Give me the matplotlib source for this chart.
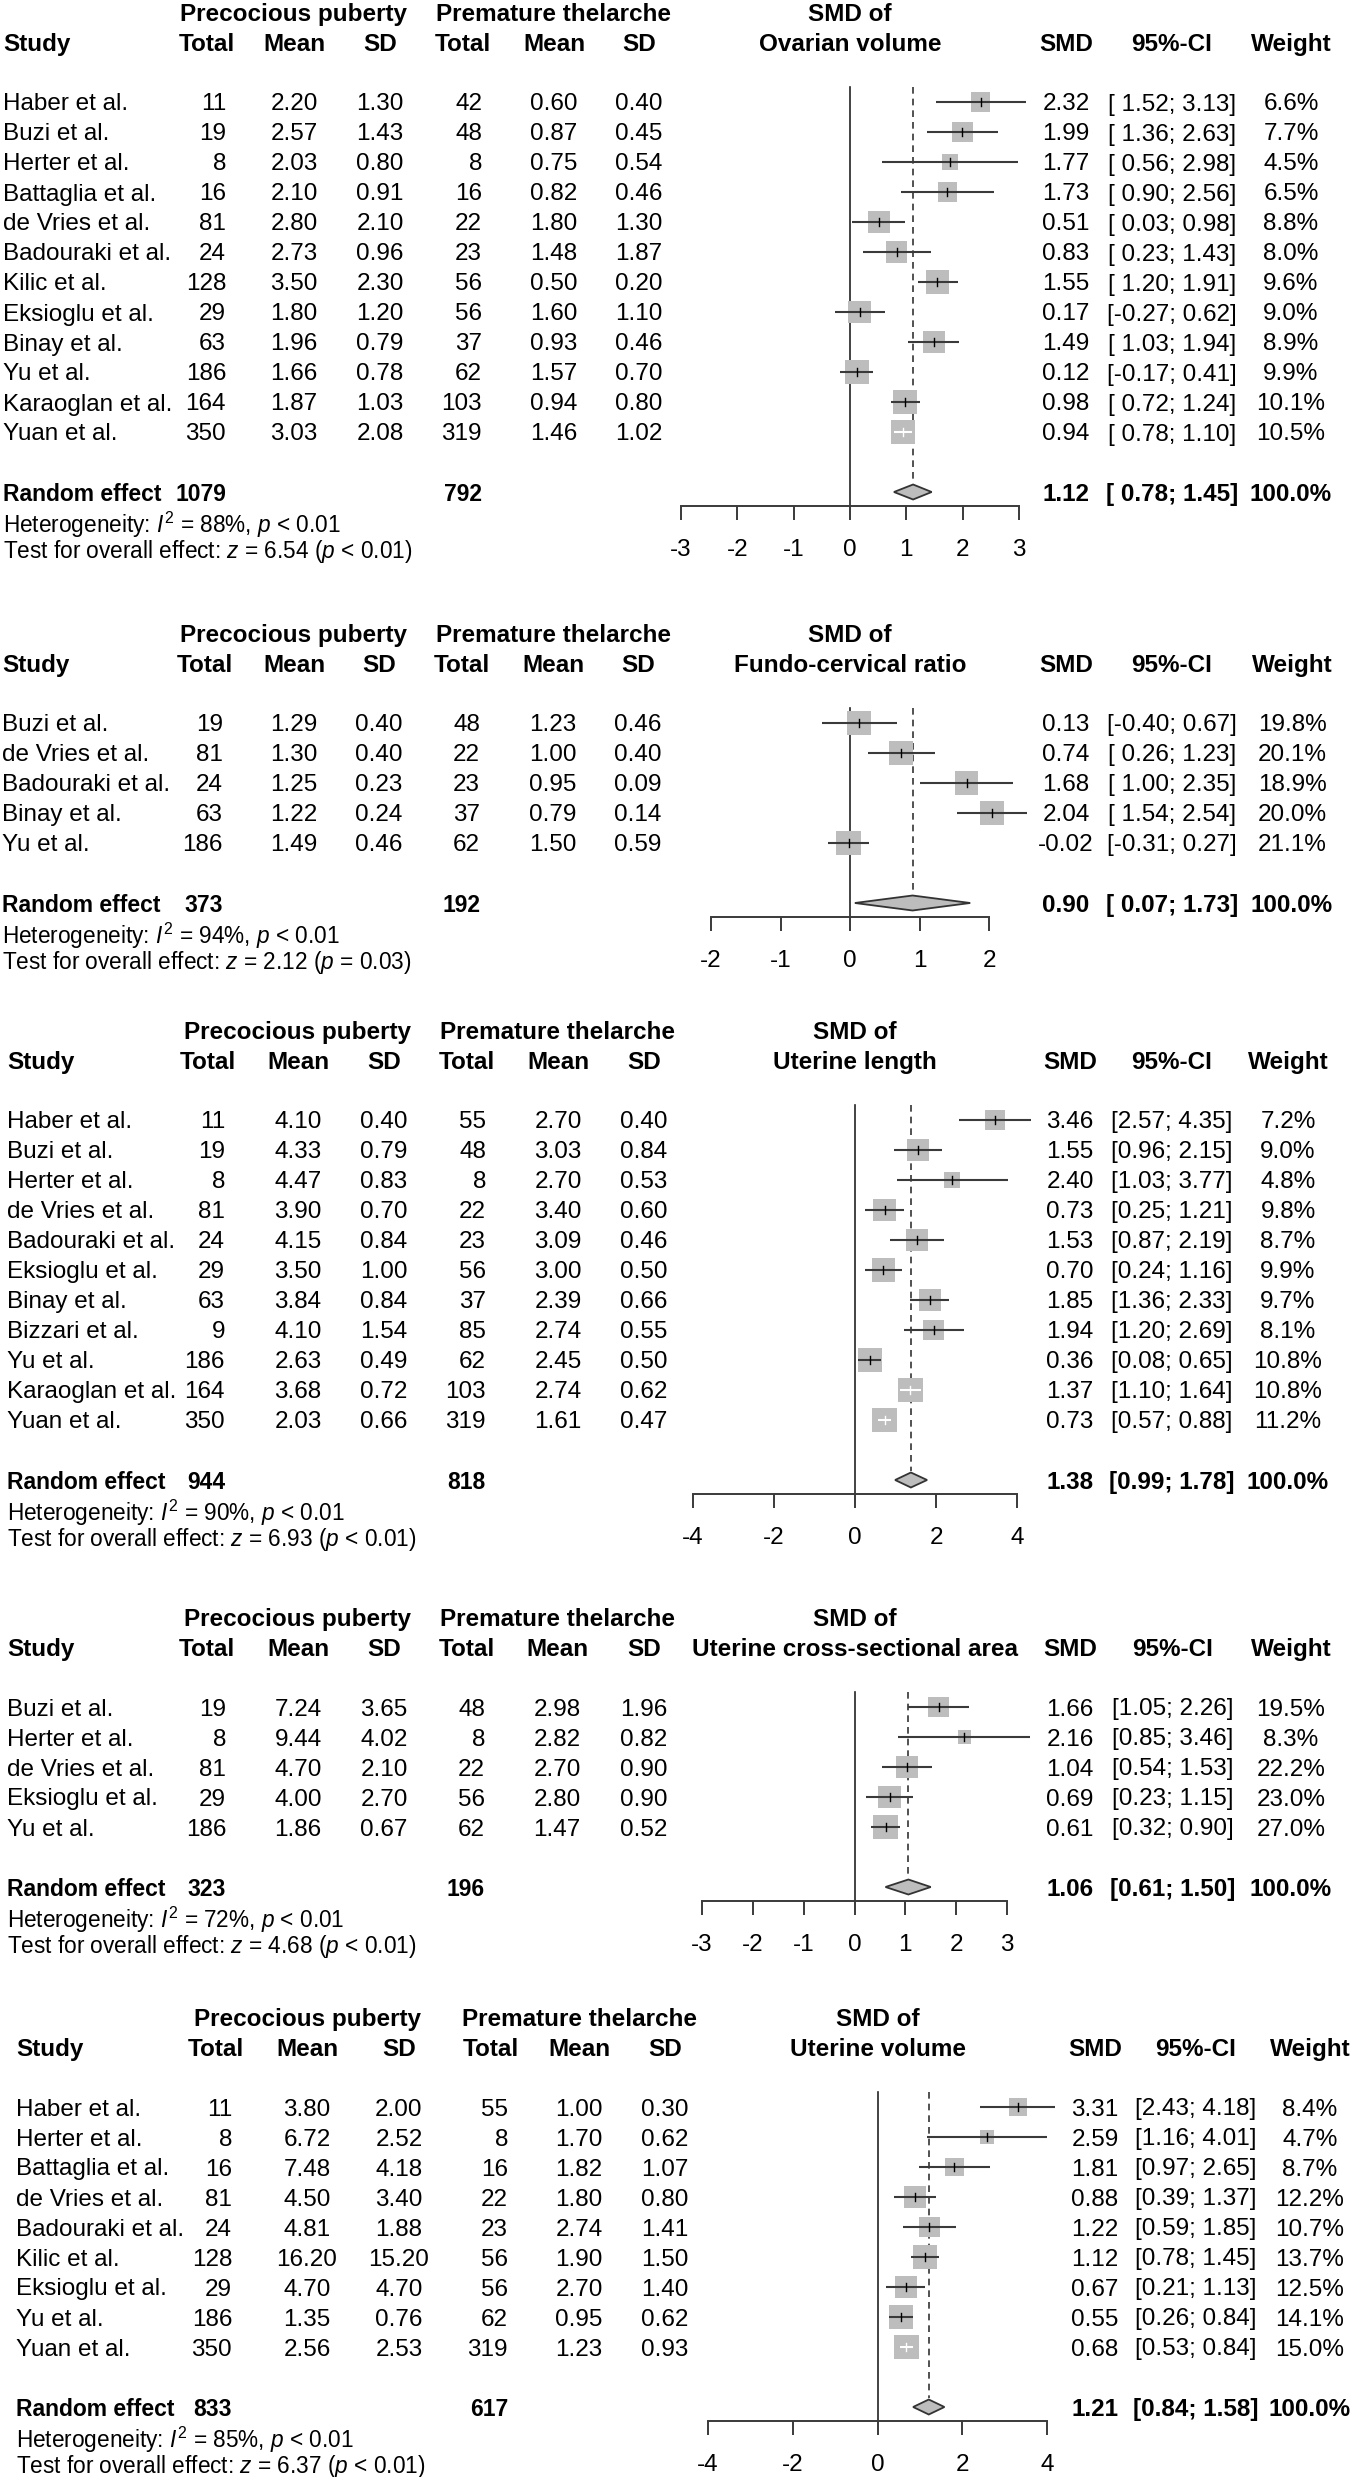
import matplotlib
matplotlib.use("Agg")
import matplotlib.pyplot as plt
from matplotlib.patches import Rectangle, Polygon
from matplotlib.transforms import blended_transform_factory
import numpy as np

plt.rcParams['font.family'] = ['Liberation Sans', 'DejaVu Sans']
plt.rcParams['mathtext.fontset'] = 'custom'
plt.rcParams['mathtext.rm'] = 'Liberation Sans'
plt.rcParams['mathtext.it'] = 'Liberation Sans:italic'
plt.rcParams['mathtext.bf'] = 'Liberation Sans:bold'
plt.rcParams['axes.unicode_minus'] = False

# ---------------- data ----------------
# Panel 1: Ovarian volume
studies1 = ["Haber et al.", "Buzi et al.", "Herter et al.", "Battaglia et al.", "de Vries et al.",
            "Badouraki et al.", "Kilic et al.", "Eksioglu et al.", "Binay et al.", "Yu et al.",
            "Karaoglan et al.", "Yuan et al."]
pp_n1 = [11, 19, 8, 16, 81, 24, 128, 29, 63, 186, 164, 350]
pp_mean1 = [2.20, 2.57, 2.03, 2.10, 2.80, 2.73, 3.50, 1.80, 1.96, 1.66, 1.87, 3.03]
pp_sd1 = [1.30, 1.43, 0.80, 0.91, 2.10, 0.96, 2.30, 1.20, 0.79, 0.78, 1.03, 2.08]
pt_n1 = [42, 48, 8, 16, 22, 23, 56, 56, 37, 62, 103, 319]
pt_mean1 = [0.60, 0.87, 0.75, 0.82, 1.80, 1.48, 0.50, 1.60, 0.93, 1.57, 0.94, 1.46]
pt_sd1 = [0.40, 0.45, 0.54, 0.46, 1.30, 1.87, 0.20, 1.10, 0.46, 0.70, 0.80, 1.02]
smd1 = [2.32, 1.99, 1.77, 1.73, 0.51, 0.83, 1.55, 0.17, 1.49, 0.12, 0.98, 0.94]
lo1 = [1.52, 1.36, 0.56, 0.90, 0.03, 0.23, 1.20, -0.27, 1.03, -0.17, 0.72, 0.78]
hi1 = [3.13, 2.63, 2.98, 2.56, 0.98, 1.43, 1.91, 0.62, 1.94, 0.41, 1.24, 1.10]
w1 = [6.6, 7.7, 4.5, 6.5, 8.8, 8.0, 9.6, 9.0, 8.9, 9.9, 10.1, 10.5]
re1 = [1.12, 0.78, 1.45]
re_w1 = 100.0
tot1 = [1079, 792]
i2_1, p_het1, z1, p_z1 = "88%", "< 0.01", "6.54", "< 0.01"

# Panel 2: Fundo-cervical ratio
studies2 = ["Buzi et al.", "de Vries et al.", "Badouraki et al.", "Binay et al.", "Yu et al."]
pp_n2 = [19, 81, 24, 63, 186]
pp_mean2 = [1.29, 1.30, 1.25, 1.22, 1.49]
pp_sd2 = [0.40, 0.40, 0.23, 0.24, 0.46]
pt_n2 = [48, 22, 23, 37, 62]
pt_mean2 = [1.23, 1.00, 0.95, 0.79, 1.50]
pt_sd2 = [0.46, 0.40, 0.09, 0.14, 0.59]
smd2 = [0.13, 0.74, 1.68, 2.04, -0.02]
lo2 = [-0.40, 0.26, 1.00, 1.54, -0.31]
hi2 = [0.67, 1.23, 2.35, 2.54, 0.27]
w2 = [19.8, 20.1, 18.9, 20.0, 21.1]
re2 = [0.90, 0.07, 1.73]
re_w2 = 100.0
tot2 = [373, 192]
i2_2, p_het2, z2, p_z2 = "94%", "< 0.01", "2.12", "= 0.03"

# Panel 3: Uterine length
studies3 = ["Haber et al.", "Buzi et al.", "Herter et al.", "de Vries et al.", "Badouraki et al.",
            "Eksioglu et al.", "Binay et al.", "Bizzari et al.", "Yu et al.", "Karaoglan et al.",
            "Yuan et al."]
pp_n3 = [11, 19, 8, 81, 24, 29, 63, 9, 186, 164, 350]
pp_mean3 = [4.10, 4.33, 4.47, 3.90, 4.15, 3.50, 3.84, 4.10, 2.63, 3.68, 2.03]
pp_sd3 = [0.40, 0.79, 0.83, 0.70, 0.84, 1.00, 0.84, 1.54, 0.49, 0.72, 0.66]
pt_n3 = [55, 48, 8, 22, 23, 56, 37, 85, 62, 103, 319]
pt_mean3 = [2.70, 3.03, 2.70, 3.40, 3.09, 3.00, 2.39, 2.74, 2.45, 2.74, 1.61]
pt_sd3 = [0.40, 0.84, 0.53, 0.60, 0.46, 0.50, 0.66, 0.55, 0.50, 0.62, 0.47]
smd3 = [3.46, 1.55, 2.40, 0.73, 1.53, 0.70, 1.85, 1.94, 0.36, 1.37, 0.73]
lo3 = [2.57, 0.96, 1.03, 0.25, 0.87, 0.24, 1.36, 1.20, 0.08, 1.10, 0.57]
hi3 = [4.35, 2.15, 3.77, 1.21, 2.19, 1.16, 2.33, 2.69, 0.65, 1.64, 0.88]
w3 = [7.2, 9.0, 4.8, 9.8, 8.7, 9.9, 9.7, 8.1, 10.8, 10.8, 11.2]
re3 = [1.38, 0.99, 1.78]
re_w3 = 100.0
tot3 = [944, 818]
i2_3, p_het3, z3, p_z3 = "90%", "< 0.01", "6.93", "< 0.01"

# Panel 4: Uterine cross-sectional area
studies4 = ["Buzi et al.", "Herter et al.", "de Vries et al.", "Eksioglu et al.", "Yu et al."]
pp_n4 = [19, 8, 81, 29, 186]
pp_mean4 = [7.24, 9.44, 4.70, 4.00, 1.86]
pp_sd4 = [3.65, 4.02, 2.10, 2.70, 0.67]
pt_n4 = [48, 8, 22, 56, 62]
pt_mean4 = [2.98, 2.82, 2.70, 2.80, 1.47]
pt_sd4 = [1.96, 0.82, 0.90, 0.90, 0.52]
smd4 = [1.66, 2.16, 1.04, 0.69, 0.61]
lo4 = [1.05, 0.85, 0.54, 0.23, 0.32]
hi4 = [2.26, 3.46, 1.53, 1.15, 0.90]
w4 = [19.5, 8.3, 22.2, 23.0, 27.0]
re4 = [1.06, 0.61, 1.50]
re_w4 = 100.0
tot4 = [323, 196]
i2_4, p_het4, z4, p_z4 = "72%", "< 0.01", "4.68", "< 0.01"

# Panel 5: Uterine volume
studies5 = ["Haber et al.", "Herter et al.", "Battaglia et al.", "de Vries et al.", "Badouraki et al.",
            "Kilic et al.", "Eksioglu et al.", "Yu et al.", "Yuan et al."]
pp_n5 = [11, 8, 16, 81, 24, 128, 29, 186, 350]
pp_mean5 = [3.80, 6.72, 7.48, 4.50, 4.81, 16.20, 4.70, 1.35, 2.56]
pp_sd5 = [2.00, 2.52, 4.18, 3.40, 1.88, 15.20, 4.70, 0.76, 2.53]
pt_n5 = [55, 8, 16, 22, 23, 56, 56, 62, 319]
pt_mean5 = [1.00, 1.70, 1.82, 1.80, 2.74, 1.90, 2.70, 0.95, 1.23]
pt_sd5 = [0.30, 0.62, 1.07, 0.80, 1.41, 1.50, 1.40, 0.62, 0.93]
smd5 = [3.31, 2.59, 1.81, 0.88, 1.22, 1.12, 0.67, 0.55, 0.68]
lo5 = [2.43, 1.16, 0.97, 0.39, 0.59, 0.78, 0.21, 0.26, 0.53]
hi5 = [4.18, 4.01, 2.65, 1.37, 1.85, 1.45, 1.13, 0.84, 0.84]
w5 = [8.4, 4.7, 8.7, 12.2, 10.7, 13.7, 12.5, 14.1, 15.0]
re5 = [1.21, 0.84, 1.58]
re_w5 = 100.0
tot5 = [833, 617]
i2_5, p_het5, z5, p_z5 = "85%", "< 0.01", "6.37", "< 0.01"

outcomes = ["Ovarian volume", "Fundo-cervical ratio", "Uterine length",
            "Uterine cross-sectional area", "Uterine volume"]
ticks1 = [-3, -2, -1, 0, 1, 2, 3]
ticks2 = [-2, -1, 0, 1, 2]
ticks3 = [-4, -2, 0, 2, 4]
ticks4 = [-3, -2, -1, 0, 1, 2, 3]
ticks5 = [-4, -2, 0, 2, 4]

panels = [
    dict(studies=studies1, pp_n=pp_n1, pp_mean=pp_mean1, pp_sd=pp_sd1, pt_n=pt_n1, pt_mean=pt_mean1,
         pt_sd=pt_sd1, smd=smd1, lo=lo1, hi=hi1, w=w1, re=re1, re_w=re_w1, tot=tot1,
         het=(i2_1, p_het1, z1, p_z1), outcome=outcomes[0], ticks=ticks1),
    dict(studies=studies2, pp_n=pp_n2, pp_mean=pp_mean2, pp_sd=pp_sd2, pt_n=pt_n2, pt_mean=pt_mean2,
         pt_sd=pt_sd2, smd=smd2, lo=lo2, hi=hi2, w=w2, re=re2, re_w=re_w2, tot=tot2,
         het=(i2_2, p_het2, z2, p_z2), outcome=outcomes[1], ticks=ticks2),
    dict(studies=studies3, pp_n=pp_n3, pp_mean=pp_mean3, pp_sd=pp_sd3, pt_n=pt_n3, pt_mean=pt_mean3,
         pt_sd=pt_sd3, smd=smd3, lo=lo3, hi=hi3, w=w3, re=re3, re_w=re_w3, tot=tot3,
         het=(i2_3, p_het3, z3, p_z3), outcome=outcomes[2], ticks=ticks3),
    dict(studies=studies4, pp_n=pp_n4, pp_mean=pp_mean4, pp_sd=pp_sd4, pt_n=pt_n4, pt_mean=pt_mean4,
         pt_sd=pt_sd4, smd=smd4, lo=lo4, hi=hi4, w=w4, re=re4, re_w=re_w4, tot=tot4,
         het=(i2_4, p_het4, z4, p_z4), outcome=outcomes[3], ticks=ticks4),
    dict(studies=studies5, pp_n=pp_n5, pp_mean=pp_mean5, pp_sd=pp_sd5, pt_n=pt_n5, pt_mean=pt_mean5,
         pt_sd=pt_sd5, smd=smd5, lo=lo5, hi=hi5, w=w5, re=re5, re_w=re_w5, tot=tot5,
         het=(i2_5, p_het5, z5, p_z5), outcome=outcomes[4], ticks=ticks5),
]

# ---------------- layout (pixels) ----------------
W, H = 1351, 2477
ROW = 30.0
FS = 17.5
FS_RE = 16.5
FS_HET = 16.3
layouts = [
    dict(top=102, axpx=(681, 1019), study_x=3, tot_r=[226, 482],
         hdr_c=[207, 294, 380, 463, 554, 639], right_c=[1066, 1172, 1291]),
    dict(top=723, axpx=(711, 989), study_x=2, tot_r=[223, 480],
         hdr_c=[205, 294, 379, 462, 553, 638], right_c=[1066, 1172, 1292]),
    dict(top=1120, axpx=(693, 1017), study_x=7, tot_r=[225, 486],
         hdr_c=[208, 298, 384, 467, 558, 644], right_c=[1070, 1172, 1288]),
    dict(top=1707, axpx=(702, 1007), study_x=7, tot_r=[226, 485],
         hdr_c=[207, 298, 384, 467, 557, 644], right_c=[1070, 1173, 1291]),
    dict(top=2107, axpx=(708, 1047), study_x=16, tot_r=[232, 508],
         hdr_c=[216, 307, 399, 491, 579, 665], right_c=[1095, 1196, 1310]),
]

BOX_MAX = 24.5        # px side of the largest square
SQ_COL = "#bdbdbd"
LINE_COL = "#3a3a3a"

fig = plt.figure(figsize=(W / 100, H / 100), dpi=100)

def txt(tr, x, y, s, ha="left", bold=False, fs=FS, color="black"):
    return fig.text(x / W, y, s, transform=tr, ha=ha, va="center_baseline",
                    fontsize=fs, fontweight="bold" if bold else "normal", color=color)

for P, L in zip(panels, layouts):
    n = len(P["studies"])
    re_row = n + 1
    ticks = P["ticks"]
    xmin, xmax = ticks[0], ticks[-1]
    x0, x1 = L["axpx"]
    ytop_row, ybot_row = -0.5, re_row + 0.47
    top_px = L["top"] + ytop_row * ROW
    bot_px = L["top"] + ybot_row * ROW
    ax = fig.add_axes([x0 / W, 1 - bot_px / H, (x1 - x0) / W, (bot_px - top_px) / H])
    ax.set_xlim(xmin, xmax)
    ax.set_ylim(ybot_row, ytop_row)
    ax.patch.set_alpha(0)
    for s in ("left", "right", "top"):
        ax.spines[s].set_visible(False)
    ax.spines["bottom"].set_color(LINE_COL)
    ax.spines["bottom"].set_linewidth(1.4)
    ax.set_yticks([])
    ax.set_xticks(ticks)
    ax.set_xticklabels([str(t) for t in ticks])
    ax.tick_params(axis="x", direction="out", length=10, width=1.4, color=LINE_COL,
                   labelsize=FS, pad=14)
    ppu = (x1 - x0) / (xmax - xmin)

    # reference lines
    ax.plot([0, 0], [ytop_row, ybot_row], color="#222222", lw=1.2, zorder=1, clip_on=False)
    ax.plot([P["re"][0]] * 2, [ytop_row, re_row - 0.3], color="#333333", lw=1.2,
            ls=(0, (4, 3)), zorder=1, clip_on=False)

    wmax = max(P["w"])
    for i in range(n):
        est, lo, hi, wt = P["smd"][i], P["lo"][i], P["hi"][i], P["w"][i]
        side = BOX_MAX * np.sqrt(wt / wmax)
        bw, bh = side / ppu, side / ROW
        ax.add_patch(Rectangle((est - bw / 2, i - bh / 2), bw, bh, facecolor=SQ_COL,
                               edgecolor="none", zorder=2, clip_on=False))
        inside = (hi - lo) * ppu < 0.93 * side
        lc = "white" if inside else LINE_COL
        ax.plot([lo, hi], [i, i], color=lc, lw=1.5, zorder=3, clip_on=False,
                solid_capstyle="butt")
        ax.plot([est, est], [i - 0.14, i + 0.14], color="white" if inside else "black",
                lw=1.0, zorder=4, clip_on=False)

    est, lo, hi = P["re"]
    ax.add_patch(Polygon([(lo, re_row), (est, re_row - 0.25), (hi, re_row), (est, re_row + 0.25)],
                         closed=True, facecolor="#bdbdbd", edgecolor="#333333", lw=1.3,
                         zorder=3, clip_on=False))

    tr = blended_transform_factory(fig.transFigure, ax.transData)
    tr_r, hc, rc = L["tot_r"], L["hdr_c"], L["right_c"]
    # headers
    txt(tr, hc[1], -3, "Precocious puberty", ha="center", bold=True)
    txt(tr, hc[4], -3, "Premature thelarche", ha="center", bold=True)
    mid = (x0 + x1) / 2
    txt(tr, mid, -3, "SMD of", ha="center", bold=True)
    txt(tr, L["study_x"], -2, "Study", bold=True)
    for c, lab in zip(hc, ["Total", "Mean", "SD", "Total", "Mean", "SD"]):
        txt(tr, c, -2, lab, ha="center", bold=True)
    txt(tr, mid, -2, P["outcome"], ha="center", bold=True)
    for c, lab in zip(rc, ["SMD", "95%-CI", "Weight"]):
        txt(tr, c, -2, lab, ha="center", bold=True)

    pad = min(P["lo"] + [P["re"][1]]) < 0
    def ci(a, b):
        return f"[{a:5.2f}; {b:.2f}]" if pad else f"[{a:.2f}; {b:.2f}]"

    for i in range(n):
        txt(tr, L["study_x"], i, P["studies"][i])
        txt(tr, tr_r[0], i, f"{P['pp_n'][i]}", ha="right")
        txt(tr, hc[1], i, f"{P['pp_mean'][i]:.2f}", ha="center")
        txt(tr, hc[2], i, f"{P['pp_sd'][i]:.2f}", ha="center")
        txt(tr, tr_r[1], i, f"{P['pt_n'][i]}", ha="right")
        txt(tr, hc[4], i, f"{P['pt_mean'][i]:.2f}", ha="center")
        txt(tr, hc[5], i, f"{P['pt_sd'][i]:.2f}", ha="center")
        txt(tr, rc[0], i, f"{P['smd'][i]:.2f}", ha="center")
        txt(tr, rc[1], i, ci(P["lo"][i], P["hi"][i]), ha="center")
        txt(tr, rc[2], i, f"{P['w'][i]:.1f}%", ha="center")

    # random effect row
    txt(tr, L["study_x"], re_row, "Random effect", bold=True, fs=FS_RE)
    txt(tr, tr_r[0], re_row, f"{P['tot'][0]}", ha="right", bold=True, fs=FS_RE)
    txt(tr, tr_r[1], re_row, f"{P['tot'][1]}", ha="right", bold=True, fs=FS_RE)
    txt(tr, rc[0], re_row, f"{P['re'][0]:.2f}", ha="center", bold=True)
    txt(tr, rc[1], re_row, ci(P["re"][1], P["re"][2]), ha="center", bold=True)
    txt(tr, rc[2], re_row, f"{P['re_w']:.1f}%", ha="center", bold=True)

    i2, ph, z, pz = P["het"]
    txt(tr, L["study_x"], re_row + 0.98,
        r"Heterogeneity: $I^2$ = " + i2 + r", $p$ " + ph, fs=FS_HET)
    txt(tr, L["study_x"], re_row + 1.87,
        r"Test for overall effect: $z$ = " + z + r" ($p$ " + pz + ")", fs=FS_HET)

fig.savefig("out.png", dpi=100, facecolor="white")
